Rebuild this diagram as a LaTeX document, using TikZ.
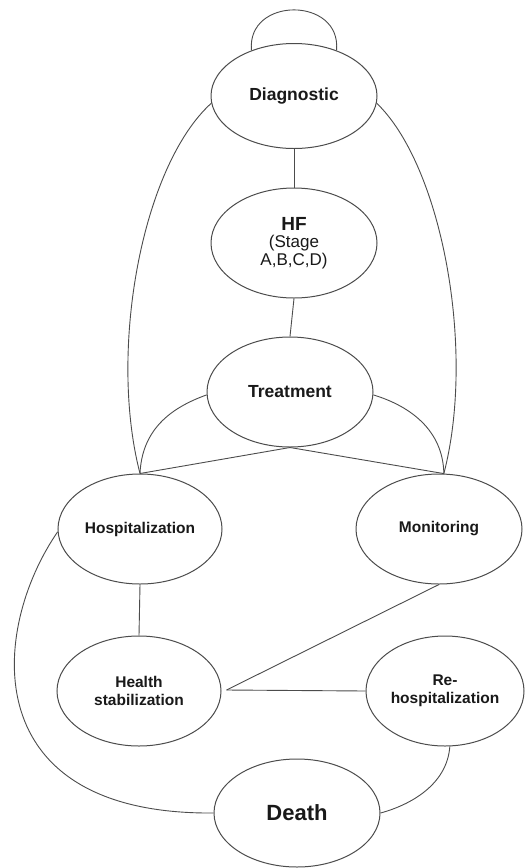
\documentclass[tikz,border=0pt]{standalone}
\usepackage{fontspec}
\setmainfont{Liberation Sans}
\usetikzlibrary{shapes.geometric,calc}
\begin{document}
\begin{tikzpicture}[x=1pt,y=-1pt,
  st/.style={ellipse,draw=black!70,line width=1pt,minimum width=166pt,minimum height=110pt,inner sep=0pt,align=center,font=\bfseries\fontsize{15.5}{18}\selectfont,text=black!90},
  ln/.style={draw=black!70,line width=0.9pt}]
\path[fill=white,use as bounding box] (0,0) rectangle (527,868);
\node[st,minimum height=105pt] (dg) at (294,96) {\fontsize{17.5}{20}\selectfont Diagnostic};
\node[st] (hf) at (294,243) {\fontsize{19}{20}\selectfont HF\\[-1pt]\mdseries\fontsize{17}{19}\selectfont (Stage\\\mdseries\fontsize{17}{19}\selectfont A,B,C,D)};
\node[st] (tr) at (290,392) {\fontsize{17.5}{20}\selectfont Treatment};
\node[st,minimum width=164pt] (hp) at (140,529) {Hospitalization};
\node[st] (mo) at (439,529) {Monitoring};
\node[st,minimum width=164pt] (hs) at (139,691) {Health\\stabilization};
\node[st,minimum width=158pt] (rh) at (445,691) {Re-\\hospitalization};
\node[st,minimum height=108pt] (de) at (297,813) {\fontsize{22}{24}\selectfont Death};
\coordinate (hsj) at ($(hs.east)+(5,-1)$);
% self loop
\draw[ln] (dg.133) .. controls +(-5,-54) and +(5,-54) .. (dg.47);
% outer curves from Diagnostic
\draw[ln] (dg.185) .. controls (142,166) and (108,350) .. (hp.90);
\draw[ln] (dg.-5) .. controls (442,166) and (476,350) .. (mo.85);
% vertical chain
\draw[ln] (dg.270) -- (hf.90);
\draw[ln] (hf.270) -- (tr.90);
% treatment arcs
\draw[ln] (tr.182) .. controls (170,408) and (142,430) .. (hp.90);
\draw[ln] (tr.-2) .. controls (410,406) and (443,430) .. (mo.85);
\draw[ln] (hp.90) -- (tr.270) -- (mo.85);
% lower part
\draw[ln] (hp.270) -- (hs.90);
\draw[ln] (mo.270) -- (hsj);
\draw[ln] (hsj) -- (rh.west);
\draw[ln] (hp.182) .. controls (-10,630) and (-25,815) .. (de.west);
\draw[ln] (rh.275) .. controls (447,785) and (410,805) .. (de.east);
\end{tikzpicture}
\end{document}
